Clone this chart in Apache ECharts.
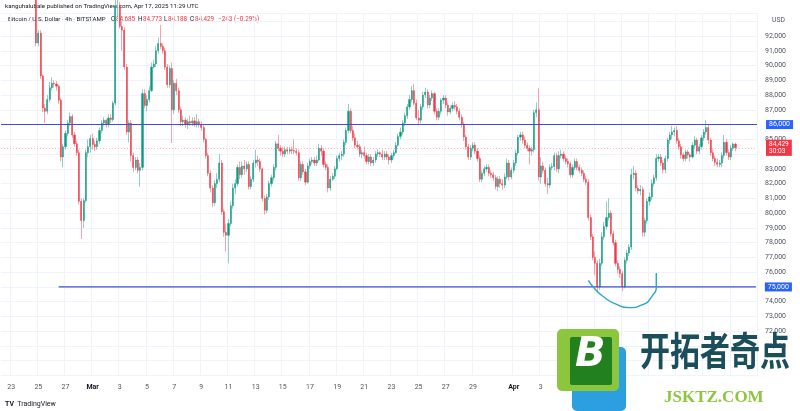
<!DOCTYPE html>
<html>
<head>
<meta charset="utf-8">
<script src="https://cdn.jsdelivr.net/npm/echarts@6.0.0/dist/echarts.min.js"></script>
<style>
html,body{margin:0;padding:0;background:#ffffff;}
#chart{width:800px;height:411px;}
</style>
</head>
<body>
<div id="chart"></div>
<script>
// ---------------- data ----------------
const firstCategoryUTC = Date.UTC(2025, 1, 22, 8);   // first slot on the time axis (4h slots)
const categoryCount = 334;
const firstBarTime = '2025-02-24 08:00';
// 4h candles: [open, close, low, high]
const bars = [
  // Feb 24 (08:00..)
  [95800,95500,95200,96300],[95500,95300,94800,95900],[95300,94700,94500,95600],[94700,91530,91300,94900],
  // Feb 25
  [91530,92200,91300,92400],[92200,89290,89100,92400],[89290,87120,86850,89400],[87120,86900,86100,87400],[86900,87700,86700,88000],[87700,88500,87500,88900],
  // Feb 26
  [88500,88800,88300,89200],[88800,88750,88500,89000],[88750,88600,88300,88950],[88600,87650,87400,88700],[87650,83800,83500,87800],[83800,84500,83100,84700],
  // Feb 27
  [84500,85400,84300,85600],[85400,86100,85200,86300],[86100,86550,85900,86800],[86550,85300,85100,86700],[85300,84700,84500,85500],[84700,84100,83900,84900],
  // Feb 28
  [84100,80800,80600,84300],[80800,79500,78250,81000],[79500,80850,79000,81000],[80850,84100,80700,84300],[84100,84500,83800,85000],[84500,85050,84100,85300],
  // Mar 1
  [85050,84650,84300,85400],[84650,84500,84200,84900],[84500,84900,84300,85100],[84900,85600,84700,85800],[85600,86100,85400,86300],[86100,86300,85900,86500],
  // Mar 2
  [86300,86000,85800,86400],[86000,86450,85800,86700],[86450,86350,86100,86700],[86350,87450,86200,87600],[87450,94000,87300,95000],[94000,94100,93300,94800],
  // Mar 3
  [94100,92650,92500,94300],[92650,92400,91000,93000],[92400,89900,89700,92600],[89900,85500,85300,90100],[85500,86100,84800,86300],[86100,83900,83500,86300],
  // Mar 4
  [83900,83100,82800,84100],[83100,83600,82900,83800],[83600,82900,82700,83800],[82900,83100,81800,83400],[83100,88100,82900,88400],[88100,87300,87100,88400],
  // Mar 5
  [87300,87700,86900,88000],[87700,88300,87500,88600],[88300,89900,88200,90200],[89900,90100,89800,90400],[90100,91000,89900,91300],[91000,91500,90800,91900],
  // Mar 6
  [91500,91300,91100,92750],[91300,91000,90800,91500],[91000,89900,89700,91200],[89900,88700,88500,90100],[88700,89800,88500,90000],[89800,87000,84750,90200],
  // Mar 7
  [87000,88800,86700,89000],[88800,88300,88000,89100],[88300,87000,86800,88500],[87000,86200,85900,87200],[86200,86300,85900,86600],[86300,86000,85800,86500],
  // Mar 8
  [86000,86200,85700,86400],[86200,86100,85900,86600],[86100,86250,85900,86500],[86250,86050,85850,86500],[86050,86200,85800,86700],[86200,86000,85800,86400],
  // Mar 9
  [86000,85800,85600,86200],[85800,85000,84800,86000],[85000,83900,83700,85100],[83900,82700,82500,84100],[82700,81700,81400,82900],[81700,80700,80400,81900],
  // Mar 10
  [80700,82000,80500,82200],[82000,82300,81700,82700],[82300,83400,82100,84000],[83400,80100,79900,83600],[80100,78700,78400,80300],[78700,78500,77400,79300],
  // Mar 11
  [78500,79300,76600,79600],[79300,80500,79100,80800],[80500,81700,80300,82000],[81700,82000,81300,82300],[82000,83100,81800,83300],[83100,82600,82300,83500],
  // Mar 12
  [82600,83200,82400,83500],[83200,83000,82600,83600],[83000,83300,82800,83500],[83300,81800,81600,83500],[81800,82300,81600,82500],[82300,83400,82100,83600],
  // Mar 13
  [83400,83600,83100,84300],[83600,83500,83200,83900],[83500,83000,82800,83700],[83000,81000,80800,83100],[81000,80200,79900,81200],[80200,81100,80000,81300],
  // Mar 14
  [81100,82000,80900,82200],[82000,82400,81800,82600],[82400,83100,82200,83300],[83100,84700,82900,84900],[84700,84400,84200,85300],[84400,84200,83900,84600],
  // Mar 15
  [84200,84000,83800,84500],[84000,84300,83800,84500],[84300,84200,84000,84500],[84200,84300,84000,84500],[84300,84250,84000,84500],[84250,84200,84000,85000],
  // Mar 16
  [84200,84100,83900,84400],[84100,82400,82200,84300],[82400,83300,82200,83500],[83300,82800,82600,83500],[82800,82100,81900,83000],[82100,83200,82000,83400],
  // Mar 17
  [83200,83500,83000,83700],[83500,83600,83300,83800],[83600,83400,83200,83800],[83400,83600,83200,83900],[83600,84400,83500,84700],[84400,84200,83900,84600],
  // Mar 18
  [84200,83300,83100,84400],[83300,83100,82900,83500],[83100,81700,81400,83300],[81700,82300,81500,82500],[82300,82500,82200,82700],[82500,83000,82300,83200],
  // Mar 19
  [83000,83700,82900,83900],[83700,83900,83500,84100],[83900,84000,83600,84200],[84000,84800,83800,85000],[84800,85600,84600,85800],[85600,86900,85400,87400],
  // Mar 20
  [86900,85600,85400,87100],[85600,85100,84900,85900],[85100,84600,84400,85400],[84600,84500,84300,84900],[84500,84000,83800,84700],[84000,84100,83700,84300],
  // Mar 21
  [84100,83900,83700,84500],[83900,83500,83300,84100],[83500,83800,83300,84000],[83800,83400,83200,84000],[83400,83600,83200,83800],[83600,84000,83400,84200],
  // Mar 22
  [84000,84100,83800,84300],[84100,84000,83800,84200],[84000,83800,83600,84300],[83800,84000,83600,84200],[84000,83800,83600,84200],[83800,83600,83300,84000],
  // Mar 23
  [83600,83900,83400,84100],[83900,84100,83700,84300],[84100,84600,84000,84800],[84600,85200,84500,85400],[85200,85500,85000,85800],[85500,86100,85300,86300],
  // Mar 24
  [86100,86600,85900,86800],[86600,87200,86400,87400],[87200,87700,87000,88000],[87700,88300,87500,88600],[88300,87450,87300,88750],[87450,86450,86300,87700],
  // Mar 25
  [86450,86300,86000,87000],[86300,87200,86100,87400],[87200,88000,87000,88200],[88000,88200,87800,88500],[88200,87330,87100,88400],[87330,87800,87100,88000],
  // Mar 26
  [87800,88100,87600,88300],[88100,86900,86700,88200],[86900,86500,86300,87100],[86500,86900,86300,87100],[86900,87660,86700,87800],[87660,87800,87400,88000],
  // Mar 27
  [87800,87330,87100,88000],[87330,86850,86600,87500],[86850,87100,86700,87300],[87100,87300,86900,87500],[87300,87200,87000,87600],[87200,86900,86700,87400],
  // Mar 28
  [86900,86500,86300,87100],[86500,86000,85800,86700],[86000,85160,84900,86200],[85160,84500,84300,85300],[84500,83800,83600,84700],[83800,84400,83600,84600],
  // Mar 29
  [84400,84600,84200,84800],[84600,84200,84000,84800],[84200,83700,83500,84400],[83700,82300,82100,83900],[82300,82700,82100,82900],[82700,83000,82500,83200],
  // Mar 30
  [83000,83100,82800,83300],[83100,82700,82500,83300],[82700,82600,82400,82900],[82600,82400,82200,82800],[82400,81800,81600,82600],[81800,82300,81500,82500],
  // Mar 31
  [82300,82000,81700,82500],[82000,81900,81600,82300],[81900,82450,81700,82700],[82450,83400,82300,83700],[83400,82450,82200,83600],[82450,82900,82300,83100],
  // Apr 1
  [82900,83400,82700,83600],[83400,84070,83200,84300],[84070,85150,83900,85300],[85150,85300,84900,85500],[85300,84950,84700,85500],[84950,84600,84400,85200],
  // Apr 2
  [84600,84400,84200,84800],[84400,84200,83300,84600],[84200,84300,83900,84500],[84300,86800,84100,87000],[86800,87000,86500,87500],[87000,82450,82200,88470],
  // Apr 3
  [82450,83200,82000,83800],[83200,82900,82700,83500],[82900,82000,81800,83100],[82000,81900,81300,82400],[81900,83100,81700,83300],[83100,83150,82900,83400],
  // Apr 4
  [83150,83900,82900,84100],[83900,83000,82800,84100],[83000,83900,82700,84200],[83900,84000,83700,84300],[84000,83700,83500,84200],[83700,83500,83300,83900],
  // Apr 5
  [83500,83350,83100,83700],[83350,82600,82400,83500],[82600,83100,82400,83300],[83100,83500,82900,83700],[83500,83100,82900,83700],[83100,82900,82700,83300],
  // Apr 6
  [82900,82700,82500,83100],[82700,82300,82100,82900],[82300,82100,81900,82500],[82100,79700,79500,82300],[79700,78400,78200,79900],[78400,77000,76800,78600],
  // Apr 7
  [77000,76600,75800,77400],[76600,75000,74600,76800],[75000,76600,74800,76900],[76600,78400,76400,78700],[78400,79100,78200,79400],[79100,79700,78900,80800],
  // Apr 8
  [79700,80000,79500,81000],[80000,78600,78400,80200],[78600,78000,77800,78800],[78000,76600,76400,78200],[76600,76200,75900,76800],[76200,75900,75600,76400],
  // Apr 9
  [75900,75000,74700,76100],[75000,76800,74900,77000],[76800,77300,76600,77500],[77300,77700,77100,77900],[77700,82600,77500,83000],[82600,82700,82300,83200],
  // Apr 10
  [82700,81700,81500,82900],[81700,81500,81300,81900],[81500,81600,81200,81900],[81600,78700,78400,81800],[78700,79500,78400,79700],[79500,80800,79300,81000],
  // Apr 11
  [80800,81100,80500,81400],[81100,82000,80900,82300],[82000,82400,81800,82600],[82400,83700,82200,84000],[83700,83800,83500,84000],[83800,83400,83200,84000],
  // Apr 12
  [83400,82950,82700,83600],[82950,83700,82700,83900],[83700,84950,83500,85100],[84950,85300,84700,85500],[85300,85500,85000,85900],[85500,85600,85200,85800],
  // Apr 13
  [85600,84900,84700,85900],[84900,84500,84300,85100],[84500,83950,83700,84700],[83950,83700,83500,84100],[83700,84150,83500,84300],[84150,83950,83700,84300],
  // Apr 14
  [83950,83800,83500,84100],[83800,84600,83700,84800],[84600,84950,84400,85200],[84950,84200,84000,85100],[84200,84500,84000,84700],[84500,85100,84300,85300],
  // Apr 15
  [85100,85500,84900,85700],[85500,85800,85300,86300],[85800,84950,84700,86000],[84950,84100,83900,85100],[84100,83700,83500,84300],[83700,83450,83200,83900],
  // Apr 16
  [83450,83300,83100,83700],[83300,83400,83100,83600],[83400,83900,83100,84100],[83900,84800,83700,85300],[84800,84100,83900,85000],[84100,83800,83600,84300],
  // Apr 17 (00:00, 04:00, 08:00)
  [83800,84400,83600,84600],[84400,84685,84200,84800],[84685,84429,84188,84773]
];
// date ticks on the time axis: [day, label]
const dateTicks = [
  ['2025-02-23','23'],['2025-02-25','25'],['2025-02-27','27'],['2025-03-01','Mar'],['2025-03-03','3'],
  ['2025-03-05','5'],['2025-03-07','7'],['2025-03-09','9'],['2025-03-11','11'],['2025-03-13','13'],
  ['2025-03-15','15'],['2025-03-17','17'],['2025-03-19','19'],['2025-03-21','21'],['2025-03-23','23'],
  ['2025-03-25','25'],['2025-03-27','27'],['2025-03-29','29'],['2025-04-01','Apr'],['2025-04-03','3']
];
// vertical grid days that continue under the logo
const gridOnlyDays = ['2025-04-05','2025-04-07','2025-04-09','2025-04-11','2025-04-13','2025-04-15','2025-04-17'];
// horizontal levels
const levelUpper = 86000;
const levelLower = 75000;
const levelLowerStart = '2025-02-26 12:00';
const lastPriceText = ['84,429', '30:03'];
const headerName = 'Bitcoin / U.S. Dollar · 4h · BITSTAMP';
const headerChange = '−243 (−0.29%)';
// hand drawn curve: [slot index, price]
const sketchCurve = [[259,75450],[262,74850],[266,74300],[271,73850],[277,73600],[283,73800],[287,74350],[289,75100],[289,75950]];

// ---------------- build ----------------
function pad(n){return (n<10?'0':'')+n;}
function fmtSlot(ms){const d=new Date(ms);return d.getUTCFullYear()+'-'+pad(d.getUTCMonth()+1)+'-'+pad(d.getUTCDate())+' '+pad(d.getUTCHours())+':00';}
const categories=[];
for(let i=0;i<categoryCount;i++){categories.push(fmtSlot(firstCategoryUTC+i*4*3600*1000));}
const barStart=categories.indexOf(firstBarTime);
const fullData=bars.map((b,k)=>[barStart+k,b[0],b[1],b[2],b[3]]);
const bodyData=bars.map((b,k)=>[barStart+k,b[0],b[1],Math.min(b[0],b[1]),Math.max(b[0],b[1])]);
const tickMap={};dateTicks.forEach(t=>{tickMap[t[0]]=t[1];});
const gridSet=new Set(dateTicks.map(t=>t[0]).concat(gridOnlyDays));
const lastBar=bars[bars.length-1];
const fmtNum=v=>v.toLocaleString('en-US');

const UP='#089981', DOWN='#f23645', LEVEL='#3b4fd8', TAG='#2962ff';
const hdr={fontSize:6.4,fontFamily:'Roboto'};
function hText(x,text,fill,size){return {type:'text',left:x,top:16.5,style:Object.assign({},hdr,{text:text,fill:fill},size?{fontSize:size}:{})};}
const tagLabel={show:true,distance:9,backgroundColor:TAG,color:'#ffffff',fontSize:7,padding:[1,3],fontFamily:'Roboto'};
const chart=echarts.init(document.getElementById('chart'),null,{renderer:'canvas'});
const option={
  animation:false,
  backgroundColor:'#ffffff',
  grid:{left:1,right:43,top:13,bottom:35.5},
  xAxis:{
    type:'category',data:categories,boundaryGap:true,
    axisLine:{show:false},axisTick:{show:false},
    axisLabel:{
      interval:(i,v)=>v.slice(11)==='00:00'&&tickMap[v.slice(0,10)]!==undefined,
      formatter:v=>{const t=tickMap[v.slice(0,10)];return (t==='Mar'||t==='Apr')?'{b|'+t+'}':t;},
      color:'#50535e',fontSize:7,fontFamily:'Roboto',margin:8,
      rich:{b:{fontWeight:'bold',color:'#131722',fontSize:7,fontFamily:'Roboto'}}
    },
    splitLine:{show:true,interval:(i,v)=>v.slice(11)==='00:00'&&gridSet.has(v.slice(0,10)),lineStyle:{color:'#f0f3fa',width:1}}
  },
  yAxis:{
    type:'value',position:'right',min:69000,max:93560,interval:1000,scale:true,
    axisLine:{show:false},axisTick:{show:false},
    axisLabel:{
      margin:8,color:'#50535e',fontSize:7,fontFamily:'Roboto',
      formatter:v=>(v>92000||v<71000||v===84000||v===levelUpper||v===levelLower)?'':fmtNum(v)
    },
    splitLine:{show:true,lineStyle:{color:'#f0f3fa',width:1}}
  },
  series:[
    {
      name:'wicks',type:'candlestick',data:fullData,encode:{x:0,y:[1,2,3,4]},
      barWidth:0.5,clip:true,silent:true,z:2,
      itemStyle:{color:'rgba(8,153,129,0.45)',color0:'rgba(242,54,69,0.45)',borderColor:'rgba(8,153,129,0.45)',borderColor0:'rgba(242,54,69,0.45)',borderColorDoji:'rgba(120,120,120,0.45)',borderWidth:1}
    },
    {
      name:'BTCUSD',type:'candlestick',data:bodyData,encode:{x:0,y:[1,2,3,4]},
      barWidth:'72%',clip:true,silent:true,z:3,
      itemStyle:{color:UP,color0:DOWN,borderColor:UP,borderColor0:DOWN,borderColorDoji:UP,borderWidth:0.4},
      markLine:{
        silent:true,symbol:['none','none'],animation:false,precision:0,
        data:[
          {yAxis:lastBar[1],lineStyle:{color:'rgba(242,54,69,0.35)',type:[1,2],width:1},
           label:{show:true,position:'end',distance:9,formatter:lastPriceText.join('\n'),backgroundColor:DOWN,color:'#ffffff',fontSize:6.6,lineHeight:7.6,padding:[1,3,0,3],fontFamily:'Roboto'}},
          {yAxis:levelUpper,lineStyle:{color:LEVEL,type:'solid',width:1.2},
           label:Object.assign({position:'end',formatter:fmtNum(levelUpper)},tagLabel)}
        ]
      }
    },
    {
      name:'level75000',type:'line',
      data:[[categories.indexOf(levelLowerStart),levelLower],[categories.length-1,levelLower]],
      showSymbol:false,symbol:'none',silent:true,z:5,clip:false,
      lineStyle:{color:LEVEL,width:1.2,type:'solid'},
      endLabel:Object.assign({formatter:()=>fmtNum(levelLower)},tagLabel)
    },
    {
      name:'sketch',type:'line',data:sketchCurve,smooth:0.6,showSymbol:false,symbol:'none',clip:false,silent:true,z:6,
      lineStyle:{color:'#2aa5c9',width:1.4}
    }
  ],
  graphic:[
    {type:'text',left:5,top:3,style:{text:'kanguhalubale published on TradingView.com, Apr 17, 2025 11:29 UTC',fontSize:6.2,fontFamily:'Roboto',fill:'#131722'}},
    hText(8,headerName,'#131722',6.1),
    hText(111,'O','#131722'),hText(116,fmtNum(lastBar[0]),DOWN),
    hText(138,'H','#131722'),hText(143,fmtNum(lastBar[3]),DOWN),
    hText(164,'L','#131722'),hText(168,fmtNum(lastBar[2]),DOWN),
    hText(190,'C','#131722'),hText(195,fmtNum(lastBar[1]),DOWN),
    hText(218,headerChange,DOWN),
    {type:'text',left:772,top:17,style:{text:'USD',fontSize:6.8,fontFamily:'Roboto',fill:'#50535e'}},
    {type:'text',left:5,top:398,style:{text:'{l|TV} {t|TradingView}',rich:{l:{fontSize:7,fontWeight:'bold',fontFamily:'Roboto',fill:'#131722'},t:{fontSize:7,fontFamily:'Roboto',fill:'#131722'}}}},
    // watermark
    {type:'rect',shape:{x:572,y:347,width:54,height:64,r:5},style:{fill:'#2b9fe0'},z:20},
    {type:'rect',shape:{x:557,y:329,width:62,height:62,r:5},style:{fill:'#8cc63f'},z:21},
    {type:'rect',shape:{x:570,y:337,width:42,height:48,r:2},style:{fill:'#23801f'},z:22},
    {type:'text',left:575,top:336,z:23,style:{text:'B',fontSize:40,fontWeight:'bold',fontStyle:'italic',fontFamily:'DejaVu Sans',fill:'#ffffff'}},
    {type:'text',x:640,y:331,scaleY:1.3,z:23,style:{text:'开拓者奇点',fontSize:30,fontWeight:'bold',fontFamily:'Noto Sans CJK SC',fill:'#1b4e5b'}},
    {type:'text',left:664,top:389,z:23,style:{text:'JSKTZ.COM',fontSize:17,fontWeight:'bold',fontFamily:'Liberation Serif',fill:'#8cc63f'}}
  ]
};
chart.setOption(option);
</script>
</body>
</html>
